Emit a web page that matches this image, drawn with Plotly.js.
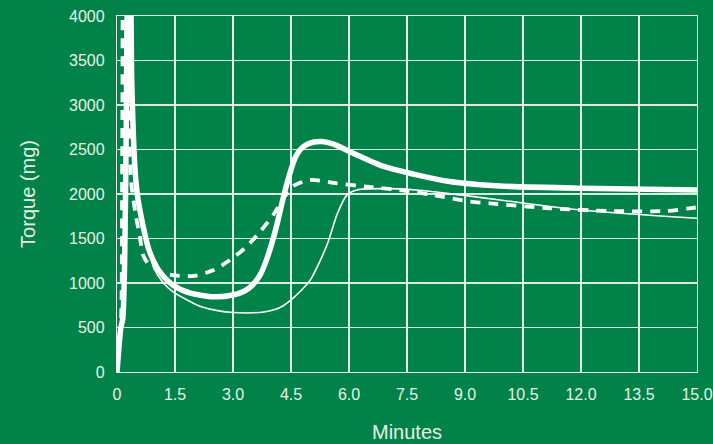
<!DOCTYPE html>
<html>
<head>
<meta charset="utf-8">
<script src="https://cdn.plot.ly/plotly-3.0.1.min.js"></script>
<style>
html,body{margin:0;padding:0;background:#008248;}
#chart{width:713px;height:444px;}
</style>
</head>
<body>
<div id="chart"></div>
<script>
// Thick solid curve
const thickX = [0, 0.06, 0.1, 0.15, 0.2, 0.24, 0.27, 0.31, 0.35, 0.38, 0.42, 0.47, 0.53, 0.6, 0.72, 0.82, 1.0, 1.15, 1.45, 1.9, 2.5, 3.0, 3.3, 3.5, 3.7, 3.85, 4.0, 4.15, 4.3, 4.47, 4.6, 4.73, 4.9, 5.1, 5.3, 5.6, 6.0, 6.9, 7.75, 8.6, 9.9, 12.0, 15.0];
const thickY = [0, 330, 500, 600, 1300, 2800, 4200, 4500, 4300, 3300, 2700, 2250, 1980, 1800, 1550, 1380, 1200, 1100, 975, 885, 845, 865, 910, 975, 1090, 1240, 1440, 1680, 1960, 2230, 2400, 2495, 2555, 2585, 2590, 2560, 2480, 2310, 2215, 2140, 2090, 2064, 2045];

// Thin solid curve
const thinX = [0, 0.06, 0.1, 0.15, 0.2, 0.24, 0.27, 0.31, 0.35, 0.38, 0.42, 0.47, 0.53, 0.6, 0.72, 0.82, 0.95, 1.2, 1.45, 1.9, 2.2, 2.6, 3.0, 3.5, 3.8, 4.1, 4.3, 4.5, 4.75, 5.0, 5.2, 5.45, 5.7, 5.95, 6.2, 6.9, 7.75, 8.9, 9.9, 12.0, 15.0];
const thinY = [0, 330, 500, 600, 1300, 2800, 4200, 4500, 4300, 3300, 2700, 2250, 1980, 1800, 1550, 1380, 1170, 1000, 900, 790, 730, 690, 668, 665, 675, 705, 745, 810, 910, 1035, 1200, 1450, 1780, 1990, 2045, 2060, 2045, 1989, 1933, 1820, 1727];

// Dashed curve
const dashX = [0, 0.06, 0.1, 0.12, 0.14, 0.17, 0.22, 0.3, 0.36, 0.47, 0.59, 0.67, 0.8, 0.98, 1.2, 1.5, 2.0, 2.5, 2.92, 3.35, 3.7, 4.04, 4.3, 4.56, 4.99, 5.68, 6.46, 7.32, 8.18, 9.13, 9.65, 11.2, 12.75, 14.2, 14.8, 15.0];
const dashY = [0, 330, 520, 900, 3000, 4500, 4600, 3000, 2160, 1800, 1520, 1320, 1220, 1168, 1110, 1085, 1080, 1146, 1258, 1408, 1576, 1764, 1950, 2090, 2157, 2120, 2082, 2045, 1989, 1914, 1895, 1839, 1809, 1809, 1839, 1850];

const xTicks = [0, 1.5, 3.0, 4.5, 6.0, 7.5, 9.0, 10.5, 12.0, 13.5, 15.0];
const xTickText = ['0', '1.5', '3.0', '4.5', '6.0', '7.5', '9.0', '10.5', '12.0', '13.5', '15.0'];
const yTicks = [0, 500, 1000, 1500, 2000, 2500, 3000, 3500, 4000];

const traces = [
  {x: thinX, y: thinY, mode: 'lines', line: {color: '#ffffff', width: 1.6, shape: 'spline', smoothing: 0.8}, hoverinfo: 'skip'},
  {x: dashX, y: dashY, mode: 'lines', line: {color: '#ffffff', width: 3.8, dash: '10px,8px', shape: 'spline', smoothing: 0.7}, hoverinfo: 'skip'},
  {x: thickX, y: thickY, mode: 'lines', line: {color: '#ffffff', width: 5.5, shape: 'spline', smoothing: 0.7}, hoverinfo: 'skip'}
];

const fontFam = '"Liberation Sans", Arial, sans-serif';
const layout = {
  width: 713, height: 444,
  paper_bgcolor: '#008248', plot_bgcolor: '#008248',
  showlegend: false,
  margin: {l: 117, r: 16, t: 16, b: 72},
  font: {family: fontFam, color: '#e8f2ea', size: 16},
  xaxis: {
    range: [0, 15], tickvals: xTicks, ticktext: xTickText,
    showgrid: true, gridcolor: 'rgba(255,255,255,0.9)', gridwidth: 1.2,
    zeroline: false, showline: true, linecolor: 'rgba(255,255,255,0.9)', linewidth: 1.2, mirror: true,
    ticks: 'outside', ticklen: 8, tickcolor: 'rgba(0,0,0,0)',
    tickfont: {size: 16, color: '#e8f2ea'},
    title: {text: 'Minutes', font: {size: 20, color: '#e8f2ea'}, standoff: 22},
    fixedrange: true
  },
  yaxis: {
    range: [0, 4000], tickvals: yTicks,
    showgrid: true, gridcolor: 'rgba(255,255,255,0.85)', gridwidth: 1.2,
    zeroline: false, showline: true, linecolor: 'rgba(255,255,255,0.9)', linewidth: 1.2, mirror: true,
    ticks: 'outside', ticklen: 8, tickcolor: 'rgba(0,0,0,0)',
    tickfont: {size: 16, color: '#e8f2ea'},
    title: {text: 'Torque (mg)', font: {size: 20, color: '#e8f2ea'}, standoff: 28},
    fixedrange: true
  }
};

Plotly.newPlot('chart', traces, layout, {staticPlot: true, displayModeBar: false});
</script>
</body>
</html>
